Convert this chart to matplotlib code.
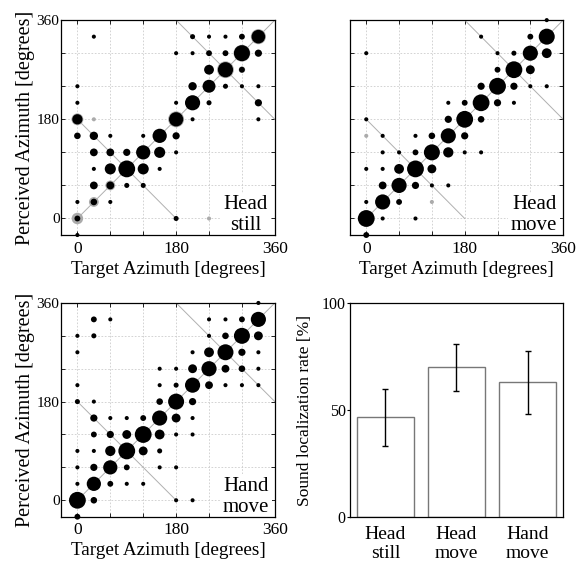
import matplotlib
matplotlib.use("Agg")
import matplotlib.pyplot as plt
import numpy as np

plt.rcParams['font.family'] = ['Liberation Serif', 'DejaVu Serif']

# responses per (target, perceived) cell, as (target, perceived, count)
still_black = [(0, -30, 1), (0, 0, 3), (0, 30, 1), (0, 150, 4), (0, 180, 11), (0, 210, 1), (0, 240, 1),
               (30, 30, 4), (30, 60, 6), (30, 90, 1), (30, 120, 6), (30, 150, 7), (30, 330, 1),
               (60, 30, 1), (60, 60, 6), (60, 90, 13), (60, 120, 6), (60, 150, 1),
               (90, 60, 2), (90, 90, 31), (90, 120, 5),
               (120, 60, 2), (120, 90, 13), (120, 120, 22), (120, 150, 1),
               (150, 90, 1), (150, 120, 13), (150, 150, 22),
               (180, 0, 2), (180, 120, 1), (180, 150, 5), (180, 180, 22), (180, 210, 1), (180, 300, 1),
               (210, 180, 1), (210, 210, 25), (210, 240, 7), (210, 300, 1), (210, 330, 2),
               (240, 210, 2), (240, 240, 18), (240, 270, 10), (240, 300, 3), (240, 330, 1),
               (270, 240, 2), (270, 270, 25), (270, 300, 3), (270, 330, 1),
               (300, 240, 1), (300, 270, 3), (300, 300, 28), (300, 330, 3),
               (330, 180, 1), (330, 210, 5), (330, 240, 1), (330, 300, 5), (330, 330, 20)]
still_gray = [(0, 0, 14), (0, 180, 15), (30, 30, 10), (30, 180, 1), (60, 60, 10), (180, 180, 28),
              (240, 0, 1), (270, 270, 31), (300, 270, 4), (300, 300, 31), (330, 330, 25)]

headmove_black = [(0, -30, 3), (0, 0, 31), (0, 30, 1), (0, 90, 1), (0, 180, 1), (0, 300, 1),
                  (30, 0, 1), (30, 30, 25), (30, 60, 6), (30, 90, 1), (30, 120, 1), (30, 150, 1),
                  (60, 30, 3), (60, 60, 25), (60, 90, 10), (60, 120, 1),
                  (90, 0, 1), (90, 60, 5), (90, 90, 31), (90, 120, 3), (90, 150, 1),
                  (120, 60, 1), (120, 90, 8), (120, 120, 28), (120, 150, 4),
                  (150, 60, 1), (150, 120, 11), (150, 150, 25), (150, 180, 5), (150, 210, 1),
                  (180, 120, 1), (180, 150, 5), (180, 180, 31), (180, 210, 3),
                  (210, 120, 1), (210, 180, 4), (210, 210, 31), (210, 240, 5), (210, 330, 1),
                  (240, 210, 5), (240, 240, 31), (240, 270, 3), (240, 300, 1),
                  (270, 210, 1), (270, 240, 5), (270, 270, 31), (270, 300, 2),
                  (300, 240, 1), (300, 270, 8), (300, 300, 25), (300, 330, 3),
                  (330, 240, 1), (330, 300, 10), (330, 330, 28), (330, 360, 1)]
headmove_gray = [(0, 150, 1), (120, 30, 1)]

handmove_black = [(0, -30, 3), (0, 0, 31), (0, 30, 1), (0, 60, 1), (0, 90, 1), (0, 180, 2), (0, 210, 1),
                  (0, 270, 1), (0, 300, 1),
                  (30, 0, 4), (30, 30, 22), (30, 60, 5), (30, 90, 1), (30, 120, 3), (30, 150, 5),
                  (30, 180, 1), (30, 300, 2), (30, 330, 3),
                  (60, 30, 3), (60, 60, 22), (60, 90, 11), (60, 120, 5), (60, 150, 1), (60, 330, 1),
                  (90, 30, 1), (90, 60, 3), (90, 90, 31), (90, 120, 8), (90, 150, 1),
                  (120, 30, 1), (120, 90, 8), (120, 120, 31), (120, 150, 3),
                  (150, 60, 1), (150, 90, 2), (150, 120, 10), (150, 150, 25), (150, 180, 4),
                  (150, 210, 1), (150, 240, 1),
                  (180, 0, 1), (180, 60, 1), (180, 120, 1), (180, 150, 8), (180, 180, 28),
                  (180, 210, 2), (180, 240, 1),
                  (210, 0, 1), (210, 120, 1), (210, 150, 1), (210, 180, 5), (210, 210, 25),
                  (210, 240, 8), (210, 270, 1),
                  (240, 210, 6), (240, 240, 25), (240, 270, 10), (240, 300, 1), (240, 330, 1),
                  (270, 210, 1), (270, 240, 6), (270, 270, 28), (270, 300, 4), (270, 330, 1),
                  (300, 210, 1), (300, 240, 4), (300, 270, 5), (300, 300, 28), (300, 330, 3),
                  (330, 210, 1), (330, 240, 1), (330, 270, 1), (330, 300, 8), (330, 330, 25), (330, 360, 1)]

conditions = ['Head\nstill', 'Head\nmove', 'Hand\nmove']
rates = [46.6, 69.9, 62.9]
rate_err = [13.2, 11.0, 14.7]

fig = plt.figure(figsize=(5.86, 5.67), dpi=100)

SCALE = 4.6  # marker area per response
BASE = 4.0   # so single responses stay visible


def bubbles(ax, pts, color):
    a = np.array(pts, dtype=float)
    ax.scatter(a[:, 0], a[:, 1], s=a[:, 2] * SCALE + BASE, c=color, linewidths=0,
               clip_on=False, zorder=3)


def scatter_panel(rect, black, gray, label, ylabel=True):
    ax = fig.add_axes(rect)
    ax.set_xlim(-30, 360)
    ax.set_ylim(-30, 360)
    t = np.arange(0, 361, 60)
    ax.set_xticks(t)
    ax.set_yticks(t)
    lab = ['0', '', '', '180', '', '', '360']
    ax.set_xticklabels(lab, fontsize=12.5)
    ax.set_yticklabels(lab if ylabel else [''] * 7, fontsize=11)
    ax.tick_params(direction='in', length=3, width=0.6, top=True, right=True, pad=4)
    ax.tick_params(axis='y', pad=1)
    ax.grid(True, color='#cccccc', lw=0.6, ls=(0, (2, 2)))
    ax.set_axisbelow(True)
    # identity and front-back confusion lines
    ax.plot([0, 360], [0, 360], color='#b0b0b0', lw=0.7, zorder=1)
    ax.plot([0, 180], [180, 0], color='#b0b0b0', lw=0.7, zorder=1)
    ax.plot([180, 360], [360, 180], color='#b0b0b0', lw=0.7, zorder=1)
    if gray:
        bubbles(ax, gray, '#ababab')
    bubbles(ax, black, 'black')
    ax.text(307, 6, label, ha='center', va='center', fontsize=15, linespacing=1.12,
            zorder=2, bbox=dict(facecolor='white', edgecolor='none', pad=2))
    ax.set_xlabel('Target Azimuth [degrees]', fontsize=13.8, labelpad=3)
    if ylabel:
        ax.set_ylabel('Perceived Azimuth [degrees]', fontsize=14.5, labelpad=1)
    for sp in ax.spines.values():
        sp.set_linewidth(0.9)
    return ax


scatter_panel([0.104, 0.5855, 0.365, 0.379], still_black, still_gray, 'Head\nstill')
scatter_panel([0.597, 0.5855, 0.364, 0.379], headmove_black, headmove_gray, 'Head\nmove', ylabel=False)
scatter_panel([0.104, 0.0887, 0.365, 0.377], handmove_black, None, 'Hand\nmove')

ax4 = fig.add_axes([0.597, 0.0877, 0.364, 0.378])
x = np.arange(len(conditions))
ax4.bar(x, rates, width=0.8, color='white', edgecolor='#777777', lw=1)
ax4.errorbar(x, rates, yerr=rate_err, fmt='none', ecolor='black', elinewidth=1,
             capsize=2.5, capthick=1)
ax4.set_xlim(-0.5, 2.5)
ax4.set_ylim(0, 100)
ax4.set_yticks([0, 50, 100])
ax4.set_yticklabels(['0', '50', '100'], fontsize=11.5)
ax4.set_xticks(x)
ax4.set_xticklabels(conditions, fontsize=14, linespacing=1.2)
ax4.tick_params(axis='x', length=0, pad=6)
ax4.tick_params(axis='y', length=2, width=0.8, pad=1)
ax4.set_ylabel('Sound localization rate [%]', fontsize=12.5, labelpad=6)
for sp in ax4.spines.values():
    sp.set_linewidth(0.9)

fig.savefig('out.png', dpi=100)
